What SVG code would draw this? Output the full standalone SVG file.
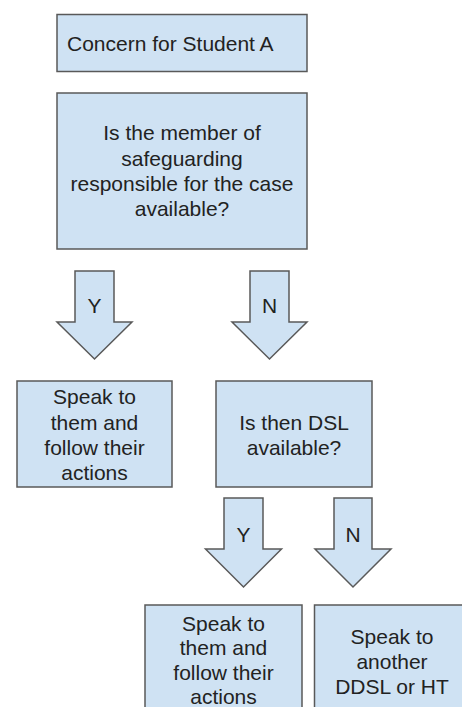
<svg xmlns="http://www.w3.org/2000/svg" width="462" height="707" viewBox="0 0 462 707">
<style>
.box{fill:#cfe2f3;stroke:#595959;stroke-width:1.5}
.arr{fill:#cfe2f3;stroke:#595959;stroke-width:1.5;stroke-linejoin:miter}
text{font-family:"Liberation Sans",Arial,sans-serif;font-size:21px;fill:#222}
.c{text-anchor:middle}
</style>
<rect width="462" height="707" fill="#ffffff"/>
<g id="concern">
<rect class="box" x="57" y="14.5" width="250" height="57"/>
<text x="67" y="51">Concern for Student A</text>
</g>
<g id="q1">
<rect class="box" x="57" y="93" width="250" height="156"/>
<text class="c" x="182" y="140">Is the member of</text>
<text class="c" x="182" y="165.5">safeguarding</text>
<text class="c" x="182" y="191">responsible for the case</text>
<text class="c" x="182" y="216">available?</text>
</g>
<g id="connectors">
<g id="arrow-y1">
<path class="arr" d="M75,271 H114 V322 H132 L94.5,359 L57,322 H75 Z"/>
<text class="c" x="94.5" y="313">Y</text>
</g>
<g id="arrow-n1">
<path class="arr" d="M250,271 H289 V322 H307 L269.5,359 L232,322 H250 Z"/>
<text class="c" x="269.5" y="313">N</text>
</g>
<g id="arrow-y2">
<path class="arr" d="M224,498 H263 V549 H281.5 L243.5,587 L205.5,549 H224 Z"/>
<text class="c" x="243.5" y="542">Y</text>
</g>
<g id="arrow-n2">
<path class="arr" d="M334,498 H372 V549 H391 L353,587 L315,549 H334 Z"/>
<text class="c" x="353" y="542">N</text>
</g>
</g>
<g id="speak1">
<rect class="box" x="17" y="381" width="155" height="106"/>
<text class="c" x="94.5" y="404">Speak to</text>
<text class="c" x="94.5" y="430">them and</text>
<text class="c" x="94.5" y="455">follow their</text>
<text class="c" x="94.5" y="480">actions</text>
</g>
<g id="q2">
<rect class="box" x="216" y="381" width="156" height="106"/>
<text class="c" x="294" y="430">Is then DSL</text>
<text class="c" x="294" y="455">available?</text>
</g>
<g id="speak2">
<rect class="box" x="145" y="605" width="157" height="114"/>
<text class="c" x="223.5" y="631">Speak to</text>
<text class="c" x="223.5" y="655">them and</text>
<text class="c" x="223.5" y="680">follow their</text>
<text class="c" x="223.5" y="704">actions</text>
</g>
<g id="speak3">
<rect class="box" x="314.5" y="605" width="156" height="114"/>
<text class="c" x="392" y="644">Speak to</text>
<text class="c" x="392" y="669">another</text>
<text class="c" x="392" y="694">DDSL or HT</text>
</g>
</svg>
